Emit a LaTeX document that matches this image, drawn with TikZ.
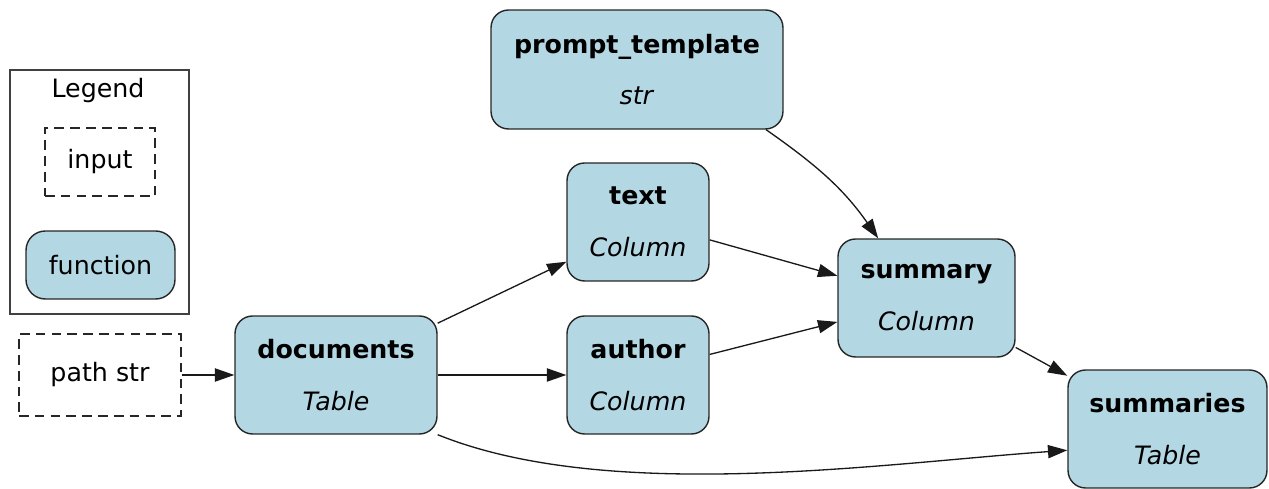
\documentclass[tikz,border=0pt]{standalone}
\usepackage{fontspec}
\setmainfont{DejaVu Sans}
\usetikzlibrary{arrows.meta}
\definecolor{fnblue}{HTML}{B4D8E3}

\begin{document}
\begin{tikzpicture}[x=0.02cm, y=-0.02cm,
    every node/.style={font=\fontsize{14.4}{29.5}\selectfont},
    fnbox/.style={draw=black!85, line width=0.8pt, fill=fnblue, rounded corners=10pt,
        align=center, inner sep=0pt, minimum height=2.36cm},
    inbox/.style={draw=black!85, line width=0.8pt, dash pattern=on 5.5pt off 3.5pt, inner sep=0pt},
    edge/.style={-{Triangle[length=11pt, width=7.5pt]}, line width=0.75pt, black!90}]
    \useasboundingbox (0,0) rectangle (1269,489);

    % legend
    \node[draw=black!75, line width=1pt, minimum width=3.58cm, minimum height=4.88cm] (legend) at (99.5,192) {};
    \node (legendtitle) at (98,91) {Legend};
    \node[inbox, minimum width=2.2cm, minimum height=1.36cm] (legendinput) at (100,162) {input};
    \node[fnbox, rounded corners=11pt, minimum width=2.98cm, minimum height=1.36cm] (legendfunc) at (100.5,265) {function};

    % nodes
    \node[inbox, minimum width=3.24cm, minimum height=1.64cm] (path) at (100,375) {path str};
    \node[fnbox, minimum width=4.04cm] (docs) at (336,375) {\textbf{documents}\\\textit{Table}};
    \node[fnbox, minimum width=5.84cm, minimum height=2.38cm] (prompt) at (637,69.5) {\textbf{prompt\_template}\\\textit{str}};
    \node[fnbox, minimum width=2.84cm] (text) at (638,222) {\textbf{text}\\\textit{Column}};
    \node[fnbox, minimum width=2.84cm] (author) at (638,375) {\textbf{author}\\\textit{Column}};
    \node[fnbox, minimum width=3.54cm] (summary) at (926.5,298) {\textbf{summary}\\\textit{Column}};
    \node[fnbox, minimum width=3.98cm] (summaries) at (1167.5,429) {\textbf{summaries}\\\textit{Table}};

    % edges
    \draw[edge] (path.east) -- (docs.west);
    \draw[edge] (docs.27) -- (text.209);
    \draw[edge] (docs.east) -- (author.west);
    \draw[edge] (docs.south east) to[out=-22, in=184, looseness=0.75] (summaries.192);
    \draw[edge] (prompt.-25) to[out=-35, in=125] (summary.129);
    \draw[edge] (text.-14) -- (summary.166);
    \draw[edge] (author.16) -- (summary.195);
    \draw[edge] (summary.-29) -- (summaries.152);
\end{tikzpicture}
\end{document}
